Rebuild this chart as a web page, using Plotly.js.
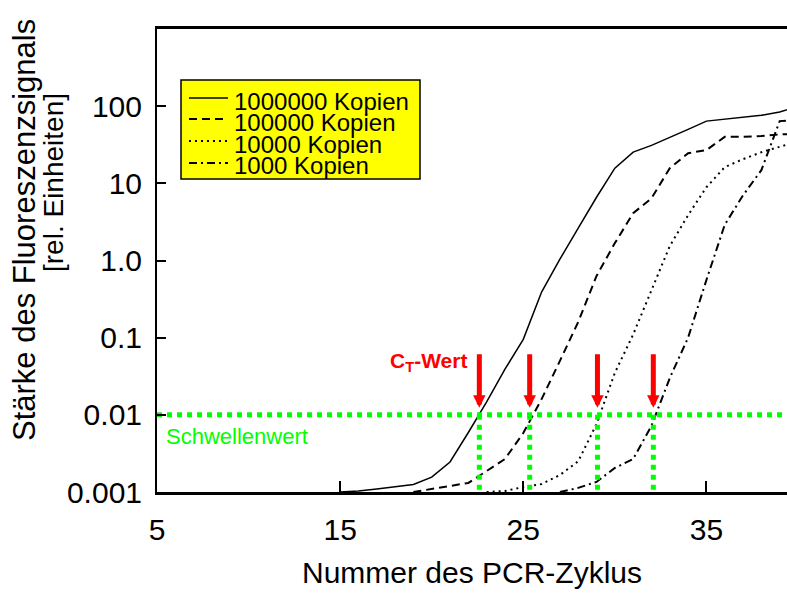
<!DOCTYPE html>
<html>
<head>
<meta charset="utf-8">
<script src="https://cdn.plot.ly/plotly-3.0.1.min.js"></script>
<style>
  html, body { margin: 0; padding: 0; background: #fff; }
  #chart { width: 787px; height: 593px; }
</style>
</head>
<body>
<div id="chart"></div>
<script>
// ---------------- data ----------------
const cycles = [15,16,17,18,19,20,21,22,23,24,25,26,27,28,29,30,31,32,33,34,35,36,37,38,39,40];

const kopien1000000 = [0.001,0.00103,0.00109,0.00116,0.00125,0.00156,0.00245,0.0059,0.0147,0.039,0.095,0.39,1.04,2.63,6.6,15.7,25.4,31,39,50,64,68,72,76,84,100];
const kopien100000  = [null,null,null,null,0.001,0.0011,0.0012,0.00131,0.00187,0.00268,0.0058,0.016,0.05,0.16,0.63,1.68,4.1,6.4,15.7,24.6,27,40,40,41,43,44];
const kopien10000   = [null,null,null,null,null,null,null,null,0.001,0.00103,0.00116,0.00127,0.00166,0.0025,0.0076,0.035,0.11,0.41,1.54,3.87,8.9,16.2,20.6,25.3,30,35];
const kopien1000    = [null,null,null,null,null,null,null,null,null,null,null,null,0.001,0.00113,0.00135,0.00205,0.00267,0.0072,0.03,0.10,0.56,2.9,7.0,14.8,64,66];

const seriesNames = ['1000000 Kopien','100000 Kopien','10000 Kopien','1000 Kopien'];
const threshold = 0.01;
const ctValues = [22.6, 25.35, 29.05, 32.1];

const xTickVals = [5,15,25,35];
const yTickVals = [0.001,0.01,0.1,1,10,100];
const yTickText = ['0.001','0.01','0.1','1.0','10','100'];

// ---------------- styling ----------------
const FONT = 'Liberation Sans, Arial, Helvetica, sans-serif';
const GREEN = '#00ff00';
const W = 787, H = 593;
const M = {l:157, r:0, t:29, b:101};
const xRange = [5, 39.4];
const yRange = [-3, 3];
const PW = W - M.l - M.r, PH = H - M.t - M.b;
const pxX = px => (px - M.l) / PW;           // pixel -> paper x
const pxY = py => (H - M.b - py) / PH;       // pixel -> paper y

const dashStyles = ['solid', '8px,5px', '2px,4px', '8px,4px,2px,4px'];
const widths = [1.5, 2, 2, 2];
const seriesData = [kopien1000000, kopien100000, kopien10000, kopien1000];

const traces = seriesData.map((ys, i) => ({
  type: 'scatter', mode: 'lines', name: seriesNames[i],
  x: cycles, y: ys, connectgaps: false,
  line: {color: '#000', width: widths[i], dash: dashStyles[i]},
  showlegend: false, hoverinfo: 'x+y+name'
}));

// threshold line (horizontal) across the whole x range
traces.push({
  type: 'scatter', mode: 'lines', name: 'Schwellenwert',
  x: [xRange[0], cycles[cycles.length - 1]], y: [threshold, threshold],
  line: {color: GREEN, width: 5, dash: '5px,5px'}, showlegend: false
});
// vertical drop lines at the CT values
const vx = [], vy = [];
ctValues.forEach(c => { vx.push(c, c, null); vy.push(threshold, Math.pow(10, yRange[0]), null); });
traces.push({
  type: 'scatter', mode: 'lines', name: 'CT',
  x: vx, y: vy,
  line: {color: GREEN, width: 5, dash: '5px,5px'}, showlegend: false
});

const annotations = [];
// y-axis title (two tight lines)
annotations.push({xref:'paper', yref:'paper', x: pxX(24), y: pxY(230), xanchor:'center', yanchor:'middle',
  text:'Stärke des Fluoreszenzsignals', textangle:-90, showarrow:false, font:{family:FONT, size:31, color:'#000'}});
annotations.push({xref:'paper', yref:'paper', x: pxX(54), y: pxY(183), xanchor:'center', yanchor:'middle',
  text:'[rel. Einheiten]', textangle:-90, showarrow:false, font:{family:FONT, size:28, color:'#000'}});
// CT label
annotations.push({xref:'paper', yref:'paper', x: pxX(469), y: pxY(362), xanchor:'right', yanchor:'middle',
  text:'<b>C<sub>T</sub>-Wert</b>', showarrow:false, font:{family:FONT, size:21, color:'#ff0000'}});
// threshold label
annotations.push({xref:'paper', yref:'paper', x: pxX(164), y: pxY(436), xanchor:'left', yanchor:'middle',
  text:'Schwellenwert', showarrow:false, font:{family:FONT, size:22, color:GREEN}});
// red arrows
ctValues.forEach(c => annotations.push({
  xref:'x', yref:'y', x: c, y: Math.log10(threshold), text:'', showarrow:true,
  ax:0, ay:-62, arrowhead:2, arrowsize:0.5, arrowwidth:5, arrowcolor:'#ff0000', standoff:7
}));

// custom compact legend
const shapes = [];
shapes.push({type:'rect', xref:'paper', yref:'paper', x0:pxX(181), x1:pxX(420), y0:pxY(179), y1:pxY(80),
  fillcolor:'#ffff00', line:{color:'#000', width:1.5}});
const legendRows = [98, 119, 141, 163];
const legendText = [101.5, 122.5, 144.5, 166];
seriesNames.forEach((n, i) => {
  shapes.push({type:'line', xref:'paper', yref:'paper', x0:pxX(189), x1:pxX(228), y0:pxY(legendRows[i]), y1:pxY(legendRows[i]),
    line:{color:'#000', width:widths[i], dash:dashStyles[i]}});
  annotations.push({xref:'paper', yref:'paper', x:pxX(232), y:pxY(legendText[i]), xanchor:'left', yanchor:'middle',
    text:n, showarrow:false, font:{family:FONT, size:24, color:'#000'}});
});

const layout = {
  width: W, height: H,
  margin: {l:M.l, r:M.r, t:M.t, b:M.b, pad:0},
  paper_bgcolor:'#fff', plot_bgcolor:'#fff',
  showlegend:false,
  font:{family:FONT, color:'#000'},
  xaxis:{
    range:xRange, tickmode:'array', tickvals:xTickVals, ticktext:xTickVals.map(String),
    ticks:'inside', ticklen:11, tickwidth:2, tickcolor:'#000',
    showline:true, linewidth:3, linecolor:'#000', mirror:true,
    showgrid:false, zeroline:false, ticklabelstandoff:9,
    tickfont:{family:FONT, size:30, color:'#000'},
    title:{text:'Nummer des PCR-Zyklus', font:{family:FONT, size:30, color:'#000'}, standoff:17}
  },
  yaxis:{
    type:'log', range:yRange, tickmode:'array', tickvals:yTickVals, ticktext:yTickText,
    ticks:'inside', ticklen:9, tickwidth:2, tickcolor:'#000',
    showline:true, linewidth:2, linecolor:'#000', mirror:false,
    showgrid:false, zeroline:false, ticklabelstandoff:7,
    tickfont:{family:FONT, size:30, color:'#000'}
  },
  annotations: annotations,
  shapes: shapes
};

Plotly.newPlot('chart', traces, layout, {displayModeBar:false, staticPlot:true});
</script>
</body>
</html>
